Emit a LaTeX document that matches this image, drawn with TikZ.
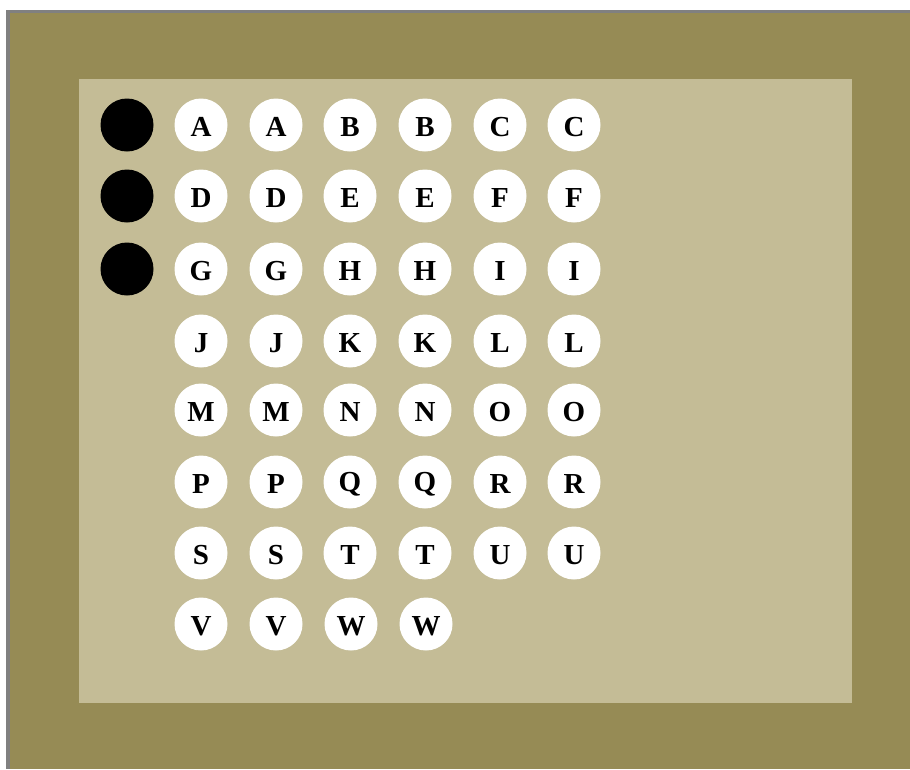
\documentclass[tikz,border=0pt]{standalone}
\usepackage{fontspec}
\setmainfont{Liberation Serif}
\definecolor{olive}{HTML}{968B55}
\definecolor{panel}{HTML}{C4BC96}
\definecolor{frame}{HTML}{808080}
\begin{document}
\begin{tikzpicture}[x=1pt,y=-1pt,
  dot/.style={circle,fill=white,minimum size=53pt,inner sep=0pt},
  lbl/.style={font=\fontsize{29}{29}\selectfont\bfseries,inner sep=0pt},
  blackdot/.style={circle,fill=black,minimum size=53pt,inner sep=0pt}]
\useasboundingbox (0,0) rectangle (910,769);
\fill[white] (0,0) rectangle (910,769);
\fill[frame] (6,10) rectangle (910,769);
\fill[olive] (10,13) rectangle (910,769);
\fill[panel] (79,79) rectangle (852,703);
\def\rowsY{{125,196,269,341,410,482,553,624}}
\node[blackdot] (k1) at (127,125) {};
\node[blackdot] (k2) at (127,196) {};
\node[blackdot] (k3) at (127,269) {};
\foreach \r/\a/\b/\c in {1/A/B/C,2/D/E/F,3/G/H/I,4/J/K/L,5/M/N/O,6/P/Q/R,7/S/T/U}{
  \pgfmathsetmacro{\yy}{\rowsY[\r-1]}
  \node[dot] (\a1) at (201,\yy) {};
  \node[lbl] at ([yshift=-2pt]\a1.center) {\a};
  \node[dot] (\a2) at (276,\yy) {};
  \node[lbl] at ([yshift=-2pt]\a2.center) {\a};
  \node[dot] (\b1) at (350,\yy) {};
  \node[lbl] at ([yshift=-2pt]\b1.center) {\b};
  \node[dot] (\b2) at (425,\yy) {};
  \node[lbl] at ([yshift=-2pt]\b2.center) {\b};
  \node[dot] (\c1) at (500,\yy) {};
  \node[lbl] at ([yshift=-2pt]\c1.center) {\c};
  \node[dot] (\c2) at (574,\yy) {};
  \node[lbl] at ([yshift=-2pt]\c2.center) {\c};
}
\node[dot] (V1) at (201,624) {};
\node[lbl] at ([yshift=-2pt]V1.center) {V};
\node[dot] (V2) at (276,624) {};
\node[lbl] at ([yshift=-2pt]V2.center) {V};
\node[dot] (W1) at (351,624) {};
\node[lbl] at ([yshift=-2pt]W1.center) {W};
\node[dot] (W2) at (426,624) {};
\node[lbl] at ([yshift=-2pt]W2.center) {W};
\end{tikzpicture}
\end{document}
